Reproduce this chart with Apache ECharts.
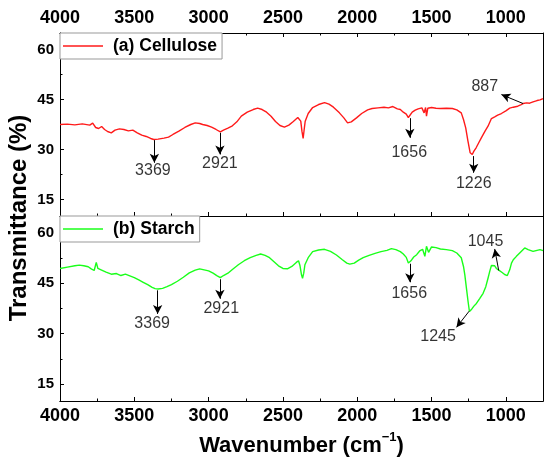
<!DOCTYPE html>
<html>
<head>
<meta charset="utf-8">
<script src="https://cdn.jsdelivr.net/npm/echarts@6/dist/echarts.min.js"></script>
<style>
  html, body { margin: 0; padding: 0; background: #fff; }
  #chart { width: 550px; height: 461px; }
</style>
</head>
<body>
<div id="chart"></div>
<script>
// (a) Cellulose spectrum
var celluloseWn = [4000, 3950, 3900, 3850, 3800, 3780, 3760, 3740, 3720, 3700, 3680, 3655, 3630, 3600, 3570, 3540, 3510, 3480, 3450, 3420, 3390, 3369, 3340, 3300, 3270, 3240, 3200, 3160, 3120, 3090, 3060, 3040, 3010, 2980, 2950, 2921, 2900, 2870, 2840, 2810, 2780, 2740, 2700, 2670, 2640, 2610, 2580, 2550, 2520, 2490, 2460, 2430, 2400, 2390, 2380, 2372, 2364, 2357, 2350, 2330, 2300, 2260, 2220, 2190, 2160, 2120, 2090, 2065, 2040, 2005, 1970, 1930, 1900, 1860, 1820, 1790, 1760, 1730, 1710, 1690, 1670, 1656, 1645, 1630, 1610, 1590, 1565, 1550, 1540, 1534, 1525, 1500, 1470, 1440, 1400, 1360, 1330, 1300, 1285, 1270, 1255, 1240, 1226, 1215, 1200, 1185, 1165, 1140, 1120, 1097, 1075, 1055, 1030, 1000, 974, 950, 920, 900, 884, 860, 840, 817, 790, 770, 750];
var celluloseT = [37.5, 37.6, 37.4, 37.7, 37.3, 37.9, 36.6, 36.3, 36.9, 36.0, 35.4, 35.0, 35.8, 36.2, 36.0, 35.6, 35.8, 35.0, 34.3, 33.9, 33.3, 33.0, 33.1, 33.4, 33.7, 34.5, 35.5, 36.6, 37.5, 38.0, 37.8, 37.5, 37.2, 36.7, 36.0, 35.3, 35.8, 36.4, 37.1, 38.3, 40.0, 41.2, 42.0, 42.4, 42.0, 41.2, 40.0, 38.4, 37.2, 36.7, 37.3, 38.4, 39.6, 40.0, 38.5, 35.5, 33.3, 36.0, 38.5, 40.8, 42.6, 43.5, 44.1, 43.6, 42.7, 41.0, 39.5, 38.0, 38.3, 39.5, 40.8, 41.9, 42.3, 42.5, 42.7, 42.5, 42.9, 42.2, 42.0, 41.2, 40.6, 39.6, 40.0, 41.2, 41.8, 42.2, 42.5, 41.0, 42.6, 40.0, 42.4, 42.6, 42.4, 42.3, 42.4, 42.3, 41.9, 41.0, 39.0, 36.5, 32.5, 29.0, 28.5, 29.5, 30.5, 31.8, 33.5, 35.5, 37.0, 39.3, 39.8, 40.3, 40.8, 41.6, 42.4, 42.7, 43.0, 43.4, 43.8, 44.0, 43.9, 44.3, 44.7, 44.9, 45.3];

// (b) Starch spectrum
var starchWn = [4000, 3950, 3900, 3870, 3840, 3810, 3790, 3770, 3756, 3745, 3720, 3690, 3655, 3620, 3590, 3560, 3530, 3500, 3470, 3440, 3410, 3380, 3360, 3340, 3310, 3280, 3250, 3210, 3170, 3130, 3090, 3060, 3030, 3000, 2970, 2945, 2921, 2900, 2870, 2840, 2800, 2760, 2720, 2680, 2650, 2620, 2590, 2560, 2530, 2500, 2470, 2440, 2410, 2395, 2385, 2375, 2368, 2360, 2352, 2330, 2300, 2260, 2220, 2180, 2140, 2100, 2070, 2050, 2020, 1990, 1960, 1920, 1880, 1840, 1800, 1770, 1740, 1710, 1690, 1670, 1656, 1640, 1620, 1600, 1580, 1560, 1545, 1534, 1520, 1500, 1470, 1440, 1400, 1360, 1330, 1300, 1285, 1276, 1265, 1254, 1245, 1230, 1215, 1198, 1175, 1153, 1135, 1120, 1108, 1097, 1085, 1075, 1064, 1050, 1041, 1025, 1008, 990, 974, 962, 950, 929, 900, 873, 850, 817, 790, 770, 750];
var starchT = [49.4, 49.8, 50.2, 50.4, 50.2, 49.9, 49.3, 48.8, 51.2, 49.4, 48.9, 48.3, 47.7, 47.9, 47.3, 47.7, 47.2, 46.7, 46.0, 45.3, 44.6, 43.8, 43.4, 43.3, 43.5, 44.0, 44.6, 45.6, 46.8, 48.1, 48.9, 49.3, 49.0, 48.7, 48.0, 47.3, 46.7, 47.3, 48.0, 49.1, 50.5, 51.7, 52.6, 53.3, 53.7, 53.3, 52.6, 51.4, 50.2, 49.4, 49.3, 50.0, 51.2, 51.7, 50.2, 47.5, 46.5, 48.0, 50.5, 52.6, 54.4, 54.9, 55.1, 54.5, 53.4, 52.0, 51.0, 50.7, 51.0, 51.9, 52.6, 53.3, 53.9, 54.4, 54.8, 55.3, 55.0, 54.4, 53.7, 52.7, 51.0, 51.6, 52.8, 53.5, 54.6, 55.1, 53.0, 56.0, 54.2, 55.8, 55.6, 55.2, 55.0, 54.7, 54.0, 52.6, 50.0, 47.5, 43.5, 39.5, 36.6, 37.3, 38.2, 39.0, 40.5, 42.0, 44.0, 46.5, 48.6, 50.3, 49.8, 50.2, 49.4, 49.0, 48.8, 48.2, 47.6, 47.3, 49.0, 51.0, 52.0, 53.0, 54.3, 55.5, 55.0, 54.5, 54.8, 55.0, 54.7];

// ticks
var xMajor = [1000, 1500, 2000, 2500, 3000, 3500, 4000];
var xMinor = [1250, 1750, 2250, 2750, 3250, 3750];
var yMajor = [15, 30, 45, 60];
var yMinor = [22.5, 37.5, 52.5];

// annotations: [label, x0, y0, x1, y1, labelX, labelY]
var celluloseNotes = [
  ['3369', 3365, 32.8, 3365, 26.0, 3375, 23.6],
  ['2921', 2924, 35.0, 2924, 28.5, 2924, 25.8],
  ['1656', 1646, 39.4, 1646, 33.5, 1650, 29.0],
  ['1226', 1216, 28.0, 1216, 23.0, 1216, 19.8],
  ['887', 884, 43.8, 1030, 46.5, 1142, 48.8]
];
var starchNotes = [
  ['3369', 3343, 42.9, 3343, 35.9, 3380, 32.9],
  ['2921', 2924, 46.2, 2924, 40.4, 2915, 37.4],
  ['1656', 1646, 50.8, 1646, 45.3, 1650, 42.0],
  ['1245', 1247, 36.7, 1332, 31.9, 1456, 29.1],
  ['1045', 1048, 48.8, 1075, 55.2, 1137, 57.4]
];

var FONT = 'Liberation Sans, Arial, sans-serif';

function xAxisOf(grid, pos, values, len, labels) {
  return {
    type: 'value', gridIndex: grid, position: pos,
    min: 750, max: 4000, inverse: true,
    axisLine: { show: true, lineStyle: { color: '#000', width: 1 } },
    axisTick: { show: true, inside: true, length: len, customValues: values, lineStyle: { color: '#000' } },
    axisLabel: labels ? {
      show: true, customValues: xMajor, margin: 6,
      formatter: function (v) { return String(v); },
      color: '#000', fontFamily: FONT, fontWeight: 'bold', fontSize: 18
    } : { show: false },
    splitLine: { show: false }
  };
}

function yAxisOf(grid, pos, values, len, labels) {
  return {
    type: 'value', gridIndex: grid, position: pos,
    min: 10, max: 65,
    axisLine: { show: true, lineStyle: { color: '#000', width: 1 } },
    axisTick: values ? { show: true, inside: true, length: len, customValues: values, lineStyle: { color: '#000' } } : { show: false },
    axisLabel: labels ? {
      show: true, customValues: yMajor, margin: 6,
      formatter: function (v) { return String(v); },
      color: '#000', fontFamily: FONT, fontWeight: 'bold', fontSize: 15
    } : { show: false },
    splitLine: { show: false }
  };
}

function pairs(xs, ys) {
  var out = [];
  for (var i = 0; i < xs.length; i++) out.push([xs[i], ys[i]]);
  return out;
}

function arrows(notes) {
  return notes.map(function (n) {
    return [{ coord: [n[1], n[2]] }, { coord: [n[3], n[4]] }];
  });
}

function noteLabels(notes) {
  return notes.map(function (n) {
    return { name: n[0], value: [n[5], n[6]] };
  });
}

function spectrum(name, color, xs, ys, xi, yi, notes) {
  return {
    name: name, type: 'line', xAxisIndex: xi, yAxisIndex: yi,
    data: pairs(xs, ys), showSymbol: false, symbol: 'none',
    lineStyle: { color: color, width: 1.4 }, itemStyle: { color: color },
    animation: false, silent: true,
    markLine: {
      silent: true, animation: false,
      symbol: ['none', 'arrow'], symbolSize: [7, 9],
      label: { show: false },
      itemStyle: { color: '#000' },
      lineStyle: { color: '#000', width: 1, type: 'solid', opacity: 1 },
      emphasis: { disabled: true },
      data: arrows(notes)
    }
  };
}

function labelSeries(xi, yi, notes) {
  return {
    type: 'scatter', xAxisIndex: xi, yAxisIndex: yi,
    symbolSize: 0, silent: true, animation: false,
    itemStyle: { color: '#000' },
    data: noteLabels(notes),
    label: {
      show: true, position: 'inside', formatter: '{b}',
      color: '#000', textBorderWidth: 0,
      fontFamily: FONT, fontSize: 16
    }
  };
}

function legendOf(name, top) {
  return {
    data: [{ name: name, icon: 'rect' }], left: 60, top: top,
    itemWidth: 40, itemHeight: 1.5, itemGap: 4,
    padding: [4, 5, 4, 3], backgroundColor: '#fff',
    borderColor: '#999', borderWidth: 1,
    textStyle: { color: '#000', fontFamily: FONT, fontWeight: 'bold', fontSize: 17.5, padding: [0, 0, 0, 5] }
  };
}

var chart = echarts.init(document.getElementById('chart'));
chart.setOption({
  backgroundColor: '#fff',
  grid: [
    { left: 60, right: 7, top: 33, height: 183 },
    { left: 60, right: 7, top: 216, height: 185 }
  ],
  legend: [legendOf('(a) Cellulose', 33), legendOf('(b) Starch', 216)],
  xAxis: [
    xAxisOf(0, 'top', xMajor, 4, true),
    xAxisOf(0, 'top', xMinor, 2.5, false),
    xAxisOf(0, 'bottom', xMajor, 4, false),
    xAxisOf(0, 'bottom', xMinor, 2.5, false),
    Object.assign(xAxisOf(1, 'bottom', xMajor, 4, true), {
      name: '{t|Wavenumber (cm}{s|−1}{t|)}',
      nameLocation: 'middle', nameGap: 30,
      nameTextStyle: {
        rich: {
          t: { color: '#000', fontFamily: FONT, fontWeight: 'bold', fontSize: 22, lineHeight: 26, verticalAlign: 'bottom' },
          s: { color: '#000', fontFamily: FONT, fontWeight: 'bold', fontSize: 13, lineHeight: 14, verticalAlign: 'top' }
        }
      }
    }),
    xAxisOf(1, 'bottom', xMinor, 2.5, false)
  ],
  yAxis: [
    yAxisOf(0, 'left', yMajor, 4, true),
    yAxisOf(0, 'left', yMinor, 2.5, false),
    yAxisOf(0, 'right', null, 0, false),
    yAxisOf(1, 'left', yMajor, 4, true),
    yAxisOf(1, 'left', yMinor, 2.5, false),
    yAxisOf(1, 'right', null, 0, false)
  ],
  graphic: [
    {
      type: 'text', x: 19, y: 218, rotation: Math.PI / 2,
      style: {
        text: 'Transmittance (%)', fill: '#000',
        font: 'bold 24px Liberation Sans, Arial, sans-serif',
        textAlign: 'center', textVerticalAlign: 'middle'
      }
    }
  ],
  series: [
    spectrum('(a) Cellulose', '#ff1a1a', celluloseWn, celluloseT, 0, 0, celluloseNotes),
    labelSeries(0, 0, celluloseNotes),
    spectrum('(b) Starch', '#1aff1a', starchWn, starchT, 4, 3, starchNotes),
    labelSeries(4, 3, starchNotes)
  ]
});
</script>
</body>
</html>
